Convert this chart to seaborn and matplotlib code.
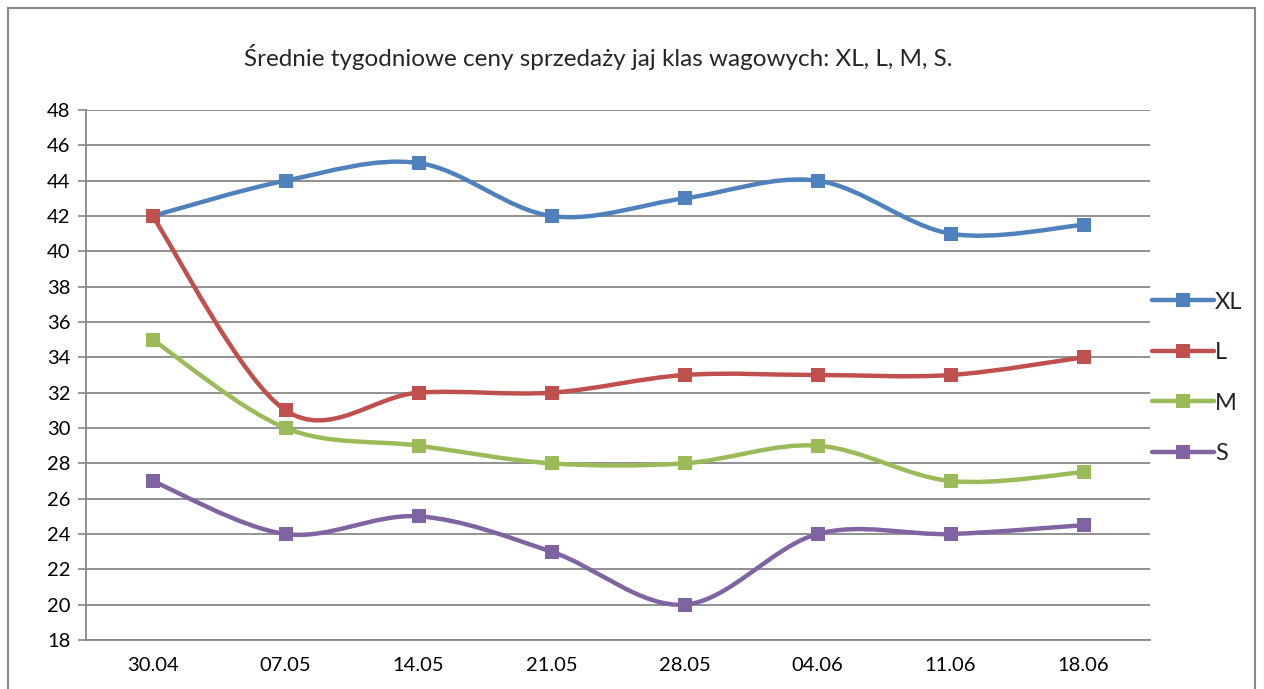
import numpy as np
import pandas as pd
import matplotlib
matplotlib.use("Agg")
import matplotlib.pyplot as plt
import seaborn as sns
from matplotlib.path import Path
from matplotlib.patches import PathPatch, Rectangle
from matplotlib.lines import Line2D

dates = ["30.04", "07.05", "14.05", "21.05", "28.05", "04.06", "11.06", "18.06"]
xl = [42, 44, 45, 42, 43, 44, 41, 41.5]
l_vals = [42, 31, 32, 32, 33, 33, 33, 34]
m_vals = [35, 30, 29, 28, 28, 29, 27, 27.5]
s_vals = [27, 24, 25, 23, 20, 24, 24, 24.5]
series_names = ["XL", "L", "M", "S"]
colors = ["#4F81BD", "#C0504D", "#9BBB59", "#8064A2"]
title = "Średnie tygodniowe ceny sprzedaży jaj klas wagowych: XL, L, M, S."
yticks = list(range(18, 49, 2))

sns.set_theme(style="white")
plt.rcParams['font.family'] = ['Lato', 'DejaVu Sans']

fig = plt.figure(figsize=(12.64, 6.89), dpi=100)
fig.patches.append(Rectangle((8/1264, -0.1), (1255-8)/1264, 1.1 - 8/689,
                             transform=fig.transFigure, fill=False,
                             edgecolor="#888888", linewidth=1.5))
ax = fig.add_axes([86/1264, 1-640/689, (1150-86)/1264, (640-110)/689])

df = pd.DataFrame({"date": dates, "XL": xl, "L": l_vals, "M": m_vals, "S": s_vals})
long = df.melt(id_vars="date", var_name="klasa", value_name="cena")
long["x"] = long["date"].map({d: i for i, d in enumerate(dates)})

def smooth_path(xs, ys):
    pts = np.column_stack([xs, ys]).astype(float)
    n = len(pts)
    verts = [pts[0]]
    codes = [Path.MOVETO]
    for i in range(n - 1):
        p0 = pts[i - 1] if i > 0 else pts[i]
        p1 = pts[i]
        p2 = pts[i + 1]
        p3 = pts[i + 2] if i + 2 < n else pts[i + 1]
        c1 = p1 + (p2 - p0) / 6.0
        c2 = p2 - (p3 - p1) / 6.0
        verts += [c1, c2, p2]
        codes += [Path.CURVE4] * 3
    return Path(verts, codes)

for name, c in zip(series_names, colors):
    sub = long[long["klasa"] == name]
    ax.add_patch(PathPatch(smooth_path(sub["x"].values, sub["cena"].values),
                           facecolor="none", edgecolor=c, linewidth=3.2, zorder=3,
                           capstyle="round"))

sns.lineplot(data=long, x="x", y="cena", hue="klasa", hue_order=series_names,
             palette=colors, marker="s", markersize=10, markeredgewidth=0,
             linestyle="none", legend=False, ax=ax, zorder=4)

ax.set_xlim(-0.5, 7.5)
ax.set_ylim(18, 48)
ax.set_yticks(yticks)
ax.set_xticks(range(len(dates)))
ax.set_xticklabels(dates)
ax.set_xticks(np.arange(-0.5, 8, 1), minor=True)
ax.tick_params(axis="x", which="major", length=0, pad=12, labelsize=14.5, colors="black")
ax.tick_params(axis="x", which="minor", length=6, width=1.2, color="#888888", direction="out")
ax.tick_params(axis="y", length=6, width=1.2, color="#888888", direction="out",
               labelsize=14.5, pad=5, left=True, labelcolor="black")
ax.grid(axis="y", color="#888888", linewidth=1.3)
ax.grid(axis="x", visible=False)
ax.set_axisbelow(True)
for side in ["top", "right"]:
    ax.spines[side].set_visible(False)
for side in ["left", "bottom"]:
    ax.spines[side].set_color("#888888")
    ax.spines[side].set_linewidth(1.3)
ax.set_xlabel("")
ax.set_ylabel("")

fig.text(598/1264, 1-57/689, title, ha="center", va="center", fontsize=17.5)

handles = [Line2D([0], [0], color=c, linewidth=3.2, marker="s", markersize=10,
                  markeredgewidth=0) for c in colors]
fig.legend(handles, series_names, loc="center left",
           bbox_to_anchor=(1131/1264, 1-378/689), frameon=False,
           fontsize=17, handlelength=2.6, handletextpad=0.05, labelspacing=1.25)

fig.savefig("out.png", dpi=100)
